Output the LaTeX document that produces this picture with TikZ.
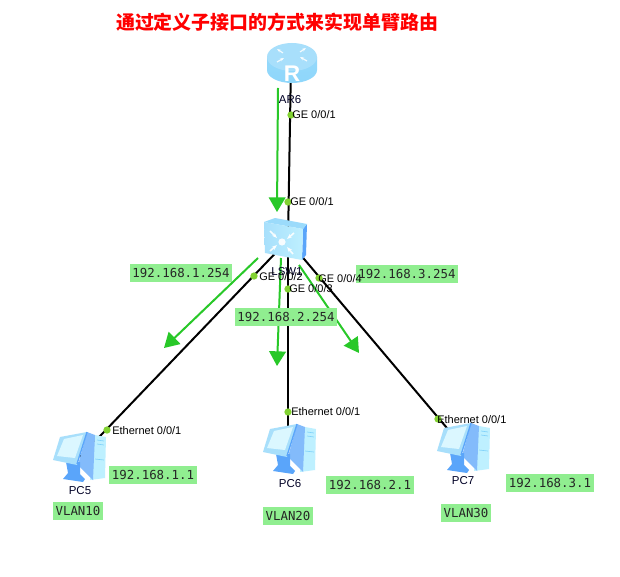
\documentclass[tikz,border=0pt]{standalone}
\usepackage{fontspec}
\setmainfont{Liberation Sans}
\setmonofont{DejaVu Sans Mono}
\newfontfamily\cjk{Noto Sans CJK SC}
\usetikzlibrary{arrows.meta}
\definecolor{lgreen}{RGB}{144,238,144}
\definecolor{arrowgreen}{RGB}{40,200,40}
\definecolor{dotgreen}{RGB}{130,210,50}
\definecolor{iconlight}{RGB}{190,240,255}
\definecolor{iconmid}{RGB}{130,210,250}
\definecolor{iconblue}{RGB}{90,165,250}
\tikzset{
  anchorbox/.style={inner sep=0pt,minimum size=1pt},
  link/.style={black,line width=1.5pt},
  flow/.style={arrowgreen,line width=1.5pt,-{Triangle[length=11pt,width=12.5pt]}},
  portdot/.style={circle,fill=dotgreen,inner sep=0pt,minimum size=5.5pt},
  port/.style={font=\fontsize{8.25}{9}\selectfont,inner sep=0pt,anchor=west,text=black},
  devname/.style={font=\fontsize{8.6}{10}\selectfont,inner sep=0pt,text=black!85!blue},
  ipbox/.style={fill=lgreen,font=\ttfamily\fontsize{9.3}{11}\selectfont,text=black!85,inner sep=0pt,minimum height=13.5pt,text depth=0pt},
  pcicon/.pic={
    \fill[iconlight] (42,3)--(53,5)--(52,46)--(37,48)--cycle;
    \draw[iconmid,line width=.5pt] (44,8)--(51,9) (44,12)--(51,13) (42,27)--(51,28);
    \fill[iconblue!75!white] (34,0)--(42,3)--(40,48)--(25,33)--cycle;
    \fill[iconblue] (13,30)--(27,30)--(27,42)--(32,47)--(30,50)--(10,47)--(15,41)--cycle;
    \fill[iconmid!70!white] (7,5)--(34,0)--(24,33)--(0,28)--cycle;
    \fill[iconlight!55!white] (11,7)--(30,3)--(22,26)--(4,24)--cycle;
    \draw[iconblue,line width=1pt] (34,0)--(24,32);
  }
}
\begin{document}
\begin{tikzpicture}[x=0.75pt,y=-0.75pt]
\useasboundingbox (0,0) rectangle (620,577);
\fill[white] (0,0) rectangle (620,577);
% anchors of the devices
\node[anchorbox] (R) at (291,63) {};
\node[anchorbox] (SW) at (288,240) {};
\node[anchorbox] (PC5) at (80,457) {};
\node[anchorbox] (PC6) at (288,449) {};
\node[anchorbox] (PC7) at (463,447) {};
% free ends of the flow arrows
\coordinate (a1s) at (278,88);  \coordinate (a1e) at (277,212);
\coordinate (a2s) at (258,258); \coordinate (a2e) at (164,348);
\coordinate (a3s) at (281,258); \coordinate (a3e) at (277,366);
\coordinate (a4s) at (299,265); \coordinate (a4e) at (359,353);
% links
\draw[link] (R.center) -- (SW.center);
\draw[link] (SW.center) -- (PC5.center);
\draw[link] (SW.center) -- (PC6.center);
\draw[link] (SW.center) -- (PC7.center);
% router icon
\shade[top color=iconmid!85!white,bottom color=iconmid!90!white] (267,57) -- (267,70) arc[start angle=180,end angle=0,x radius=25,y radius=13] -- (317,57) -- cycle;
\fill[iconmid!70!white] (292,57) ellipse[x radius=25,y radius=14];
\draw[white,line width=.9pt,opacity=.85,-{Stealth[length=3pt]}] (283,53)--(277,49);
\draw[white,line width=.9pt,opacity=.85,-{Stealth[length=3pt]}] (277,62)--(284,58);
\draw[white,line width=.9pt,opacity=.85,-{Stealth[length=3pt]}] (300,52)--(306,48);
\draw[white,line width=.9pt,opacity=.85,-{Stealth[length=3pt]}] (307,61)--(300,57);
\node[white,inner sep=0pt,font=\fontsize{17}{20}\selectfont\bfseries] (Rtext) at (292,74) {R};
% switch icon
\fill[iconblue] (303,229)--(307,224)--(306,255)--(302,260)--cycle;
\fill[iconmid!80!white] (264,222)--(275,218)--(307,224)--(303,229)--cycle;
\shade[left color=iconmid!70!white,right color=iconlight] (264,222)--(303,229)--(302,260)--(265,253)--cycle;
\fill[white,opacity=.9] (282,242) circle[radius=3.6];
\foreach \sx/\sy/\ex/\ey in {270/231/277/238, 294/233/287/239, 270/251/277/245, 293/254/287/247}
  \draw[white,line width=1.2pt,opacity=.9,-{Stealth[length=4pt]}] (\sx,\sy)--(\ex,\ey);
% PC icons
\pic at (53,432) {pcicon};
\pic at (263,424) {pcicon};
\pic at (437,423) {pcicon};
% flow arrows
\draw[flow] (a1s) -- (a1e);
\draw[flow] (a2s) -- (a2e);
\draw[flow] (a3s) -- (a3e);
\draw[flow] (a4s) -- (a4e);
% title
\node[inner sep=0pt,text=red,font=\cjk\bfseries\fontsize{14.2}{16}\selectfont] (title) at (277,22) {通过定义子接口的方式来实现单臂路由};
% device names
\node[devname] (nR) at (290,100) {AR6};
\node[devname] (nSW) at (287,272) {LSW1};
\node[devname] (n5) at (80,491) {PC5};
\node[devname] (n6) at (290,484) {PC6};
\node[devname] (n7) at (463,481) {PC7};
% address boxes
\node[ipbox,minimum width=76.5pt] (i1) at (181,273) {192.168.1.254};
\node[ipbox,minimum width=77pt] (i2) at (286,317) {192.168.2.254};
\node[ipbox,minimum width=77pt] (i3) at (407,274) {192.168.3.254};
\node[ipbox,minimum width=66pt] (i4) at (153,475) {192.168.1.1};
\node[ipbox,minimum width=66pt] (i5) at (370,485) {192.168.2.1};
\node[ipbox,minimum width=66pt] (i6) at (550,483) {192.168.3.1};
\node[ipbox,minimum width=37.5pt] (v1) at (78,511) {VLAN10};
\node[ipbox,minimum width=37.5pt] (v2) at (288,516) {VLAN20};
\node[ipbox,minimum width=37.5pt] (v3) at (466,513) {VLAN30};
% port dots
\node[portdot] (d1) at (291,115) {};
\node[portdot] (d2) at (288,202) {};
\node[portdot] (d3) at (254,276) {};
\node[portdot] (d4) at (288,289) {};
\node[portdot] (d5) at (319,278) {};
\node[portdot] (d6) at (107,430) {};
\node[portdot] (d7) at (288,412) {};
\node[portdot] (d8) at (438,419) {};
% port labels
\node[port] (p1) at (292,115) {GE 0/0/1};
\node[port] (p2) at (290,202) {GE 0/0/1};
\node[port] (p3) at (259,277) {GE 0/0/2};
\node[port] (p4) at (289,289) {GE 0/0/3};
\node[port] (p5) at (318,279) {GE 0/0/4};
\node[port] (p6) at (112,431) {Ethernet 0/0/1};
\node[port] (p7) at (291,412) {Ethernet 0/0/1};
\node[port] (p8) at (437,420) {Ethernet 0/0/1};
\end{tikzpicture}
\end{document}
